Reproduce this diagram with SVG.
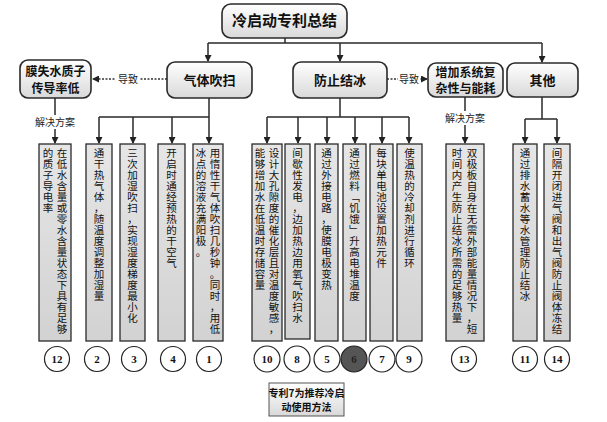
<svg xmlns="http://www.w3.org/2000/svg" width="607" height="422" viewBox="0 0 607 422">
<style>
.hb{fill:url(#gh);stroke:#2a2a2a;stroke-width:1.6}
.ht{font-family:"Noto Sans CJK SC","Noto Sans",sans-serif;font-weight:bold;font-size:13px;fill:#111;text-anchor:middle}
.tb{fill:url(#gt);stroke:#2a2a2a;stroke-width:1.3}
.v{font-family:"Noto Sans CJK SC",sans-serif;font-size:10.5px;fill:#111;text-anchor:middle}
.c{fill:#fff;stroke:#222;stroke-width:1.2}
.n{font-family:"Liberation Serif",serif;font-weight:bold;font-size:11px;fill:#111;text-anchor:middle}
.ln{fill:none;stroke:#2a2a2a;stroke-width:1.5}
.dl{fill:none;stroke:#333;stroke-width:1.5;stroke-dasharray:2 1.5}
.lb{font-family:"Noto Sans CJK SC",sans-serif;font-size:10px;fill:#222;text-anchor:middle}
</style>
<defs>
<linearGradient id="gh" x1="0" y1="0" x2="0" y2="1"><stop offset="0" stop-color="#ffffff"/><stop offset="1" stop-color="#d9d9d9"/></linearGradient>
<linearGradient id="gt" x1="0" y1="0" x2="0" y2="1"><stop offset="0" stop-color="#e6e6e6"/><stop offset="1" stop-color="#d2d2d2"/></linearGradient>
<marker id="ar" markerWidth="7" markerHeight="7" refX="6" refY="3.5" orient="auto" markerUnits="userSpaceOnUse"><path d="M0,0 L7,3.5 L0,7 z" fill="#222"/></marker>
</defs>
<rect width="607" height="422" fill="#fff"/>

<g id="connectors">
<path class="ln" d="M285,38 V43 M208,43 H542"/>
<path class="ln" d="M208,43 V61" marker-end="url(#ar)"/>
<path class="ln" d="M340,43 V61" marker-end="url(#ar)"/>
<path class="ln" d="M542,43 V62" marker-end="url(#ar)"/>
<path class="dl" d="M167,79 H93" marker-end="url(#ar)"/>
<rect x="116" y="72" width="24" height="14" fill="#fff"/>
<text class="lb" x="128" y="83">导致</text>
<path class="dl" d="M387,79 H427" marker-end="url(#ar)"/>
<rect x="398" y="72" width="22" height="14" fill="#fff"/>
<text class="lb" x="409" y="83">导致</text>
<path class="ln" d="M55,98 V143" marker-end="url(#ar)"/>
<rect x="33" y="115" width="44" height="14" fill="#fff"/>
<text class="lb" x="55" y="126">解决方案</text>
<path class="ln" d="M209,98 V117 M99,117 H209"/>
<path class="ln" d="M99,117 V143" marker-end="url(#ar)"/>
<path class="ln" d="M133,117 V143" marker-end="url(#ar)"/>
<path class="ln" d="M172,117 V143" marker-end="url(#ar)"/>
<path class="ln" d="M209,117 V143" marker-end="url(#ar)"/>
<path class="ln" d="M340,98 V117 M267,117 H409"/>
<path class="ln" d="M267,117 V143" marker-end="url(#ar)"/>
<path class="ln" d="M298,117 V143" marker-end="url(#ar)"/>
<path class="ln" d="M327,117 V143" marker-end="url(#ar)"/>
<path class="ln" d="M355,117 V143" marker-end="url(#ar)"/>
<path class="ln" d="M382,117 V143" marker-end="url(#ar)"/>
<path class="ln" d="M409,117 V143" marker-end="url(#ar)"/>
<path class="ln" d="M465,97 V143" marker-end="url(#ar)"/>
<rect x="443" y="111" width="44" height="14" fill="#fff"/>
<text class="lb" x="465" y="122">解决方案</text>
<path class="ln" d="M542,97 V119 M525,119 H557"/>
<path class="ln" d="M525,119 V143" marker-end="url(#ar)"/>
<path class="ln" d="M557,119 V143" marker-end="url(#ar)"/>
</g>

<g id="title"><rect class="hb" x="222" y="4" width="125" height="34" rx="9"/><text class="ht" x="284.5" y="26" style="font-size:15px">冷启动专利总结</text></g>
<g id="n-mem"><rect class="hb" x="20" y="60" width="71" height="38" rx="8"/><text class="ht" x="55.5" y="76" style="font-size:12px">膜失水质子</text><text class="ht" x="55.5" y="93" style="font-size:12px">传导率低</text></g>
<g id="n-purge"><rect class="hb" x="167" y="62" width="85" height="36" rx="8"/><text class="ht" x="209.5" y="85">气体吹扫</text></g>
<g id="n-ice"><rect class="hb" x="293" y="62" width="94" height="36" rx="8"/><text class="ht" x="340" y="85">防止结冰</text></g>
<g id="n-complex"><rect class="hb" x="428" y="63" width="75" height="34" rx="8"/><text class="ht" x="465.5" y="77" style="font-size:12px">增加系统复</text><text class="ht" x="465.5" y="93" style="font-size:12px">杂性与能耗</text></g>
<g id="n-other"><rect class="hb" x="507" y="63" width="71" height="34" rx="8"/><text class="ht" x="542.5" y="85">其他</text></g>

<g id="p12"><rect class="tb" x="39" y="144" width="32" height="197"/>
<text class="v" x="62 62 62 62 62 62 62 62 62 62 62 62 62 62 62 62 62" y="157 168 179 190 201 212 223 234 245 256 267 278 289 300 311 322 333">在低水含量或零水含量状态下具有足够</text>
<text class="v" x="48 48 48 48 48 48" y="157 168 179 190 201 212">的质子导电率</text>
<circle class="c" cx="57" cy="359" r="12.5"/><text class="n" x="57" y="363">12</text></g>
<g id="p2"><rect class="tb" x="86" y="144" width="26" height="197"/>
<text class="v" x="99 99 99 99 99 99 99 99 99 99 99 99 99 99" y="157 168 179 190 201 212 223 234 245 256 267 278 289 300">通干热气体，随温度调整加湿量</text>
<circle class="c" cx="97" cy="359" r="12.5"/><text class="n" x="97" y="363">2</text></g>
<g id="p3"><rect class="tb" x="120" y="144" width="25" height="197"/>
<text class="v" x="132.5 132.5 132.5 132.5 132.5 132.5 132.5 132.5 132.5 132.5 132.5 132.5 132.5 132.5 132.5 132.5" y="157 168 179 190 201 212 223 234 245 256 267 278 289 300 311 322">三次加湿吹扫，实现湿度梯度最小化</text>
<circle class="c" cx="134" cy="359" r="12.5"/><text class="n" x="134" y="363">3</text></g>
<g id="p4"><rect class="tb" x="158" y="144" width="27" height="197"/>
<text class="v" x="171.5 171.5 171.5 171.5 171.5 171.5 171.5 171.5 171.5 171.5 171.5" y="157 168 179 190 201 212 223 234 245 256 267">开启时通经预热的干空气</text>
<circle class="c" cx="173" cy="359" r="12.5"/><text class="n" x="173" y="363">4</text></g>
<g id="p1"><rect class="tb" x="193" y="144" width="30" height="197"/>
<text class="v" x="215 215 215 215 215 215 215 215 215 215 215 215 215 215 215 215 215" y="157 168 179 190 201 212 223 234 245 256 267 278 289 300 311 322 333">用惰性干气体吹扫几秒钟。同时，用低</text>
<text class="v" x="201 201 201 201 201 201 201 201 201 201" y="157 168 179 190 201 212 223 234 245 256">冰点的溶液充满阳极。</text>
<circle class="c" cx="209" cy="359" r="12.5"/><text class="n" x="209" y="363">1</text></g>
<g id="p10"><rect class="tb" x="252" y="144" width="30" height="197"/>
<text class="v" x="274 274 274 274 274 274 274 274 274 274 274 274 274 274 274 274 274" y="157 168 179 190 201 212 223 234 245 256 267 278 289 300 311 322 333">设计大孔隙度的催化层且对温度敏感，</text>
<text class="v" x="260 260 260 260 260 260 260 260 260 260 260 260 260" y="157 168 179 190 201 212 223 234 245 256 267 278 289">能够增加水在低温时存储容量</text>
<circle class="c" cx="267" cy="359" r="13"/><text class="n" x="267" y="363">10</text></g>
<g id="p8"><rect class="tb" x="285" y="144" width="25" height="195"/>
<text class="v" x="297.5 297.5 297.5 297.5 297.5 297.5 297.5 297.5 297.5 297.5 297.5 297.5 297.5 297.5 297.5 297.5" y="157 168 179 190 201 212 223 234 245 256 267 278 289 300 311 322">间歇性发电，边加热边用氧气吹扫水</text>
<circle class="c" cx="297" cy="359" r="13"/><text class="n" x="297" y="363">8</text></g>
<g id="p5"><rect class="tb" x="315" y="144" width="23" height="197"/>
<text class="v" x="326.5 326.5 326.5 326.5 326.5 326.5 326.5 326.5 326.5 326.5 326.5 326.5 326.5" y="157 168 179 190 201 212 223 234 245 256 267 278 289">通过外接电路，使膜电极变热</text>
<circle class="c" cx="327" cy="359" r="13"/><text class="n" x="327" y="363">5</text></g>
<g id="p6"><rect class="tb" x="343" y="144" width="23" height="197"/>
<text class="v" x="354.5 354.5 354.5 354.5 354.5 354.5 354.5 354.5 354.5 354.5 354.5 354.5 354.5 354.5" y="157 168 179 190 201 212 223 234 245 256 267 278 289 300">通过燃料﹁饥饿﹂升高电堆温度</text>
<circle cx="354" cy="359" r="13" fill="#555" stroke="#222" stroke-width="1.2"/><text class="n" x="354" y="363" style="fill:#222">6</text></g>
<g id="p7"><rect class="tb" x="370" y="144" width="23" height="197"/>
<text class="v" x="381.5 381.5 381.5 381.5 381.5 381.5 381.5 381.5 381.5 381.5 381.5" y="157 168 179 190 201 212 223 234 245 256 267">每块单电池设置加热元件</text>
<circle class="c" cx="382" cy="359" r="13"/><text class="n" x="382" y="363">7</text></g>
<g id="p9"><rect class="tb" x="397" y="144" width="25" height="197"/>
<text class="v" x="409.5 409.5 409.5 409.5 409.5 409.5 409.5 409.5 409.5 409.5 409.5" y="157 168 179 190 201 212 223 234 245 256 267">使温热的冷却剂进行循环</text>
<circle class="c" cx="409" cy="359" r="13"/><text class="n" x="409" y="363">9</text></g>
<g id="p13"><rect class="tb" x="446" y="144" width="38" height="197"/>
<text class="v" x="472 472 472 472 472 472 472 472 472 472 472 472 472 472 472 472 472" y="157 168 179 190 201 212 223 234 245 256 267 278 289 300 311 322 333">双极板自身在无需外部能量情况下，短</text>
<text class="v" x="457 457 457 457 457 457 457 457 457 457 457 457 457 457 457 457" y="157 168 179 190 201 212 223 234 245 256 267 278 289 300 311 322">时间内产生防止结冰所需的足够热量</text>
<circle class="c" cx="464" cy="359" r="12.5"/><text class="n" x="464" y="363">13</text></g>
<g id="p11"><rect class="tb" x="513" y="144" width="24" height="197"/>
<text class="v" x="525 525 525 525 525 525 525 525 525 525 525 525 525 525" y="157 168 179 190 201 212 223 234 245 256 267 278 289 300">通过排水蓄水等水管理防止结冰</text>
<circle class="c" cx="525" cy="359" r="12.5"/><text class="n" x="525" y="363">11</text></g>
<g id="p14"><rect class="tb" x="544" y="144" width="26" height="197"/>
<text class="v" x="557 557 557 557 557 557 557 557 557 557 557 557 557 557 557 557 557" y="157 168 179 190 201 212 223 234 245 256 267 278 289 300 311 322 333">间隔开闭进气阀和出气阀防止阀体冻结</text>
<circle class="c" cx="557" cy="359" r="12.5"/><text class="n" x="557" y="363">14</text></g>

<g id="note"><rect x="269" y="383" width="75" height="33" fill="url(#gh)" stroke="#555" stroke-width="1"/><text class="ht" x="306.5" y="397" style="font-size:10px">专利7为推荐冷启</text><text class="ht" x="306.5" y="411" style="font-size:10px">动使用方法</text></g>
</svg>
